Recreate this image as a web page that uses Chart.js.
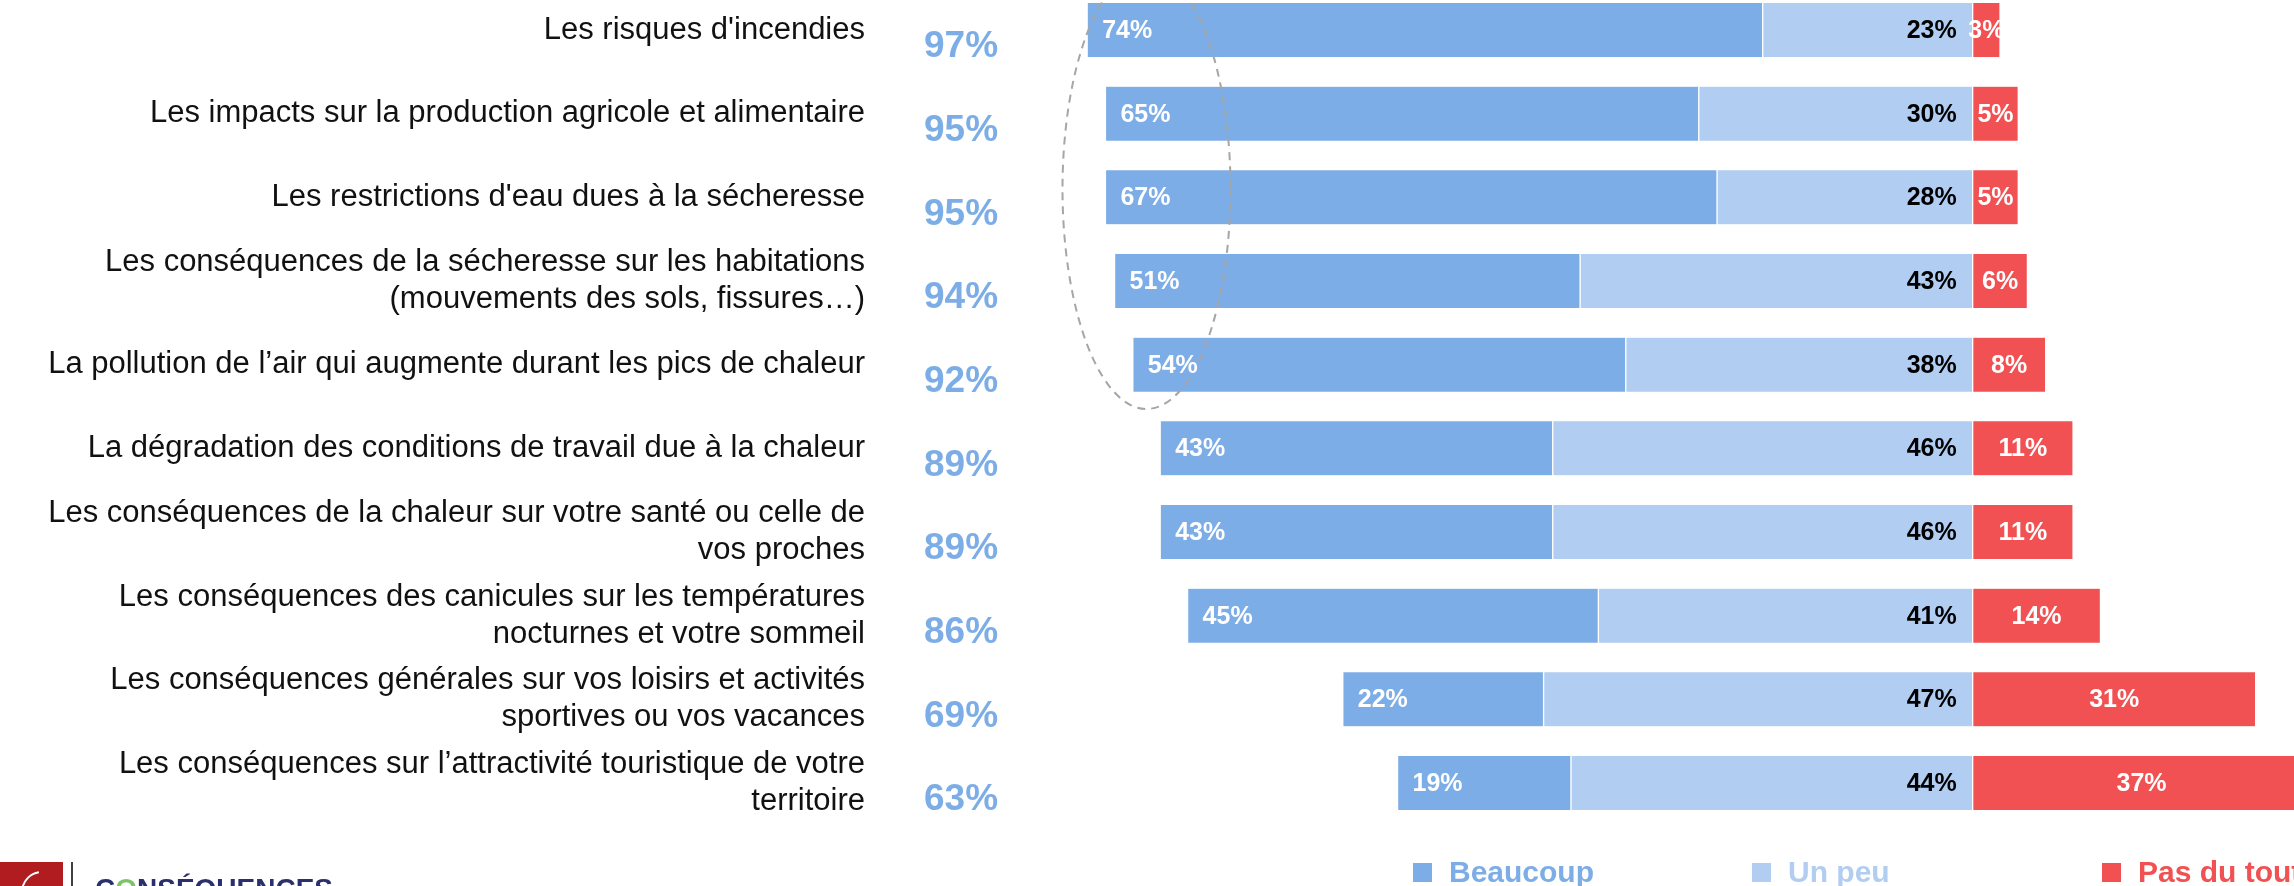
<!DOCTYPE html>
<html lang="fr">
<head>
<meta charset="utf-8">
<title>Conséquences</title>
<script src="https://cdn.jsdelivr.net/npm/chart.js@4.4.1/dist/chart.umd.min.js"></script>
<style>
  html, body { margin: 0; padding: 0; background: #fff; overflow: hidden; }
  #wrap { width: 2294px; height: 886px; position: relative; }
</style>
</head>
<body>
<div id="wrap"><canvas id="chart"></canvas></div>
<script>
// data
const categories = [
  'Les risques d\'incendies',
  'Les impacts sur la production agricole et alimentaire',
  'Les restrictions d\'eau dues à la sécheresse',
  ['Les conséquences de la sécheresse sur les habitations', '(mouvements des sols, fissures…)'],
  'La pollution de l’air qui augmente durant les pics de chaleur',
  'La dégradation des conditions de travail due à la chaleur',
  ['Les conséquences de la chaleur sur votre santé ou celle de', 'vos proches'],
  ['Les conséquences des canicules sur les températures', 'nocturnes et votre sommeil'],
  ['Les conséquences générales sur vos loisirs et activités', 'sportives ou vos vacances'],
  ['Les conséquences sur l’attractivité touristique de votre', 'territoire']
];
const beaucoup  = [74, 65, 67, 51, 54, 43, 43, 45, 22, 19];
const unPeu     = [23, 30, 28, 43, 38, 46, 46, 41, 47, 44];
const pasDuTout = [3, 5, 5, 6, 8, 11, 11, 14, 31, 37];
const totals    = [97, 95, 95, 94, 92, 89, 89, 86, 69, 63];
const seriesNames = ['Beaucoup', 'Un peu', 'Pas du tout'];

const BLUE = '#7DADE6';
const LIGHT = '#B1CDF1';
const RED = '#F15152';
const FONT = "'Liberation Sans', Arial, sans-serif";

// dashed ellipse around the top rows
const ellipsePlugin = {
  id: 'ellipse',
  afterDatasetsDraw(chart) {
    const { ctx, scales } = chart;
    const cx = scales.x.getPixelForValue(-90.5);
    const cy = scales.y.getPixelForValue(1.9);
    ctx.save();
    ctx.strokeStyle = '#A6A6A6';
    ctx.lineWidth = 2;
    ctx.setLineDash([8, 6]);
    ctx.beginPath();
    ctx.ellipse(cx, cy, 84, 220, 0, 0, Math.PI * 2);
    ctx.stroke();
    ctx.restore();
  }
};

// percentages inside the bars
const segmentLabels = {
  id: 'segmentLabels',
  afterDatasetsDraw(chart) {
    const ctx = chart.ctx;
    ctx.save();
    ctx.font = `bold 25px ${FONT}`;
    ctx.textBaseline = 'middle';
    chart.data.datasets.forEach((ds, di) => {
      const meta = chart.getDatasetMeta(di);
      meta.data.forEach((bar, i) => {
        const left = Math.min(bar.x, bar.base);
        const right = Math.max(bar.x, bar.base);
        const txt = ds.values[i] + '%';
        if (ds.key === 'beaucoup') {
          ctx.fillStyle = '#fff';
          ctx.textAlign = 'left';
          ctx.fillText(txt, left + 15, bar.y + 1);
        } else if (ds.key === 'unPeu') {
          ctx.fillStyle = '#000';
          ctx.textAlign = 'right';
          ctx.fillText(txt, right - 16, bar.y + 1);
        } else {
          ctx.fillStyle = '#fff';
          ctx.textAlign = 'center';
          ctx.fillText(txt, (left + right) / 2, bar.y + 1);
        }
      });
    });
    ctx.restore();
  }
};

// totals column, legend and logo
const extras = {
  id: 'extras',
  afterDraw(chart) {
    const { ctx, scales, chartArea } = chart;
    ctx.save();

    ctx.font = `bold 37px ${FONT}`;
    ctx.fillStyle = BLUE;
    ctx.textAlign = 'center';
    ctx.textBaseline = 'middle';
    totals.forEach((t, i) => {
      ctx.fillText(t + '%', chartArea.left - 44, scales.y.getPixelForValue(i) + 17);
    });

    // legend
    const items = [
      { text: seriesNames[0], color: BLUE, x: 1413 },
      { text: seriesNames[1], color: LIGHT, x: 1752 },
      { text: seriesNames[2], color: RED, x: 2102 }
    ];
    ctx.font = `bold 30px ${FONT}`;
    ctx.textAlign = 'left';
    ctx.textBaseline = 'alphabetic';
    items.forEach(it => {
      ctx.fillStyle = it.color;
      ctx.fillRect(it.x, 863, 19, 19);
      ctx.fillText(it.text, it.x + 36, 882);
    });

    // logo
    ctx.fillStyle = '#B01C1F';
    ctx.fillRect(0, 862, 63, 24);
    ctx.strokeStyle = '#fff';
    ctx.lineWidth = 2;
    ctx.beginPath();
    ctx.arc(42, 892, 20, Math.PI * 1.05, Math.PI * 1.45);
    ctx.stroke();
    ctx.strokeStyle = '#000';
    ctx.lineWidth = 1.5;
    ctx.beginPath();
    ctx.moveTo(72, 862);
    ctx.lineTo(72, 886);
    ctx.stroke();
    ctx.font = `bold 28px ${FONT}`;
    let lx = 95;
    [['C', '#2B2F6B'], ['O', '#7CC36A'], ['NSÉQUENCES', '#2B2F6B']].forEach(([s, c]) => {
      ctx.fillStyle = c;
      ctx.fillText(s, lx, 898);
      lx += ctx.measureText(s).width;
    });

    ctx.restore();
  }
};

const barStyle = {
  barThickness: 54,
  borderColor: '#fff',
  borderWidth: { left: 1, right: 1, top: 0, bottom: 0 },
  borderSkipped: false,
  clip: false
};

new Chart(document.getElementById('chart'), {
  type: 'bar',
  data: {
    labels: categories,
    datasets: [
      { ...barStyle, key: 'unPeu', label: seriesNames[1], values: unPeu,
        data: unPeu.map(v => -v), backgroundColor: LIGHT },
      { ...barStyle, key: 'beaucoup', label: seriesNames[0], values: beaucoup,
        data: beaucoup.map(v => -v), backgroundColor: BLUE },
      { ...barStyle, key: 'pas', label: seriesNames[2], values: pasDuTout,
        data: pasDuTout, backgroundColor: RED }
    ]
  },
  options: {
    indexAxis: 'y',
    responsive: true,
    maintainAspectRatio: false,
    animation: false,
    devicePixelRatio: 1,
    layout: { padding: { top: 30, bottom: 103, left: 0, right: 0 } },
    plugins: {
      legend: { display: false },
      tooltip: { enabled: false }
    },
    scales: {
      x: {
        display: false,
        stacked: true,
        min: -106,
        max: 35.2
      },
      y: {
        stacked: true,
        offset: false,
        grid: { display: false, drawTicks: false },
        border: { display: false },
        ticks: {
          autoSkip: false,
          padding: 140,
          color: '#111',
          font: { family: FONT, size: 31, lineHeight: 1.2 }
        },
        afterFit(scale) {
          // fixed width, and no extra top/bottom room for the tick labels
          scale.width = 1005;
          scale.paddingTop = 0;
          scale.paddingBottom = 0;
        }
      }
    }
  },
  plugins: [ellipsePlugin, segmentLabels, extras]
});
</script>
</body>
</html>
